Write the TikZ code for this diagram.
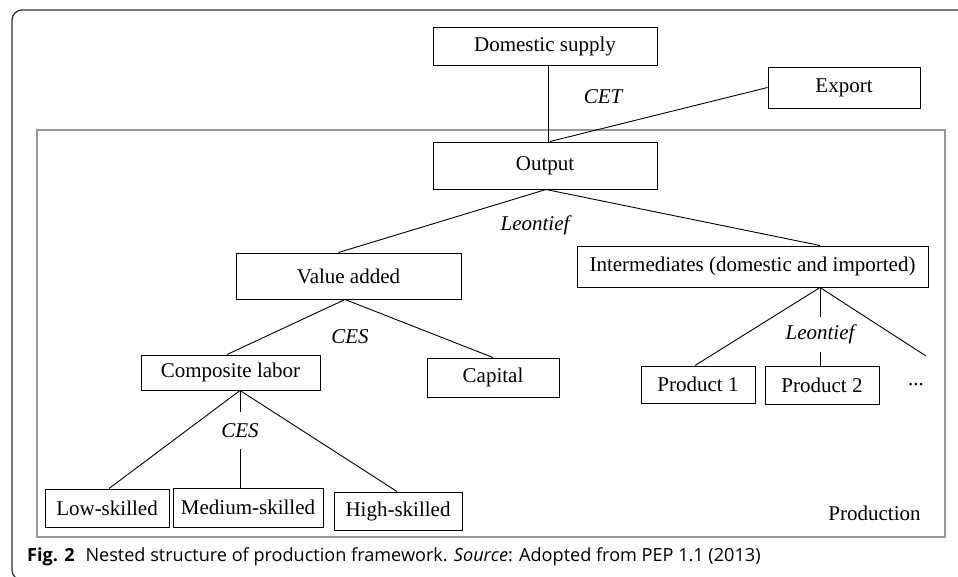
\documentclass[tikz,border=0pt]{standalone}
\usepackage{fontspec}
\setmainfont{Liberation Serif}
\newfontfamily\capfont{Open Sans}
\usetikzlibrary{calc}
\begin{document}
\begin{tikzpicture}[x=1pt,y=-1pt,
  box/.style={draw=black,line width=1pt,rectangle,inner sep=0pt,font=\fontsize{21}{24}\selectfont},
  lab/.style={inner sep=0pt,font=\fontsize{21}{24}\selectfont\itshape},
  conn/.style={draw=black,line width=0.9pt}]
\useasboundingbox (0,0) rectangle (958,576);
\begin{scope}
\clip (0,0) rectangle (958,576);
\draw[line width=1.3pt,draw=black!80,rounded corners=10pt] (12,10) rectangle (1000,580);
\end{scope}
\draw[line width=1.3pt,draw=black!40] (37,130) rectangle (945,537);
% boxes
\node[box,minimum width=224pt,minimum height=38pt] (dom) at (545,46) {Domestic supply};
\node[box,minimum width=152pt,minimum height=41pt] (exp) at (844,87.5) {Export};
\node[box,minimum width=224pt,minimum height=47pt] (out) at (545,165.5) {Output};
\node[box,minimum width=225pt,minimum height=46pt] (va) at (348.5,276) {Value added};
\node[box,minimum width=351pt,minimum height=41pt] (inter) at (752.5,266.5) {Intermediates (domestic and imported)};
\node[box,minimum width=179pt,minimum height=35pt] (cl) at (230.5,372.5) {Composite labor};
\node[box,minimum width=132pt,minimum height=39pt] (cap) at (493,377.5) {Capital};
\node[box,minimum width=114pt,minimum height=37pt] (p1) at (698,384.5) {Product 1};
\node[box,minimum width=114pt,minimum height=38pt] (p2) at (822,385) {Product 2};
\node[box,minimum width=124pt,minimum height=38pt] (low) at (107,508) {Low-skilled};
\node[box,minimum width=150pt,minimum height=39pt] (med) at (248,507.5) {Medium-skilled};
\node[box,minimum width=128pt,minimum height=38pt] (high) at (398,511) {High-skilled};
\node[inner sep=0pt,font=\fontsize{21}{24}\selectfont] (dots) at (916,385) {...};
\coordinate (dotsend) at (926,356);
% labels
\node[lab] (cet) at (603,97) {CET};
\node[lab] (leo1) at (535,225) {Leontief};
\node[lab] (ces1) at (350,337) {CES};
\node[lab,minimum height=35pt] (leo2) at (820,334.5) {Leontief};
\node[lab,minimum height=37pt] (ces2) at (240,430.5) {CES};
\node[inner sep=0pt,font=\fontsize{21}{24}\selectfont] (prod) at (874.5,513) {Production};
% connectors
\coordinate (outtop) at ($(out.north)+(3,0)$);
\draw[conn] ($(dom.south)+(3,0)$) -- (outtop);
\draw[conn] (exp.west) -- ($(out.north)+(5,0)$);
\coordinate (outbot) at ($(out.south)+(1,0)$);
\draw[conn] (outbot) -- ($(va.north)+(-10,0)$);
\draw[conn] (outbot) -- ($(inter.north)+(67.5,0)$);
\coordinate (vabot) at ($(va.south)+(-3.5,0)$);
\draw[conn] (vabot) -- ($(cl.north)+(-3.5,0)$);
\draw[conn] (vabot) -- (cap.north);
\coordinate (intbot) at ($(inter.south)+(67.5,0)$);
\draw[conn] (intbot) -- ($(p1.north)+(-3,0)$);
\draw[conn] (intbot) -- (leo2.north);
\draw[conn] (leo2.south) -- ($(p2.north)+(-2,0)$);
\draw[conn] (intbot) -- (dotsend);
\coordinate (clbot) at ($(cl.south)+(9.5,0)$);
\draw[conn] (clbot) -- ($(low.north)+(2,0)$);
\draw[conn] (clbot) -- (ces2.north);
\draw[conn] (ces2.south) -- ($(med.north)+(-8,0)$);
\draw[conn] (clbot) -- ($(high.north)+(-1,0)$);
% caption
\node[anchor=base west,inner sep=0pt,font=\capfont\fontsize{18.1}{21}\selectfont] (caption) at (27,561) {\textbf{Fig. 2}\hspace{0.6em}Nested structure of production framework. \textit{Source}: Adopted from PEP 1.1 (2013)};
\end{tikzpicture}
\end{document}
